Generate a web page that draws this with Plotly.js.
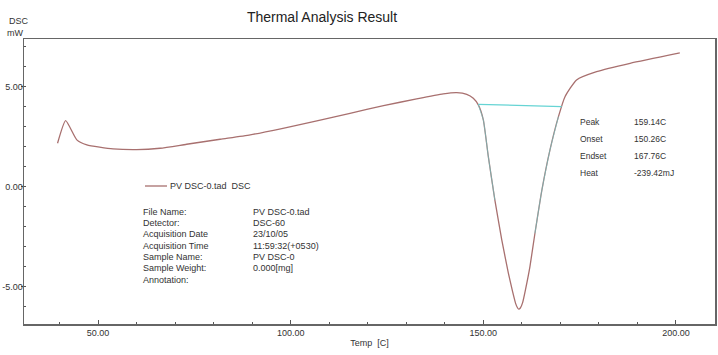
<!DOCTYPE html>
<html>
<head>
<meta charset="utf-8">
<script src="https://cdn.plot.ly/plotly-3.0.1.min.js"></script>
<style>html,body{margin:0;padding:0;background:#fff;}#chart{width:718px;height:355px;}</style>
</head>
<body>
<div id="chart"></div>
<script>
// ---- data ----
const temp = [39.5, 41.6, 44.5, 47.1, 53.9, 60.0, 66.1, 73.0, 81.7, 89.5, 98.0, 106.8, 115.4, 124.1, 132.7, 139.6, 143.1, 145.7, 147.4, 148.7, 150.0, 151.3, 153.0, 154.8, 156.5, 157.6, 158.4, 158.9, 159.2, 159.6, 160.2, 161.0, 162.1, 163.4, 165.2, 167.3, 169.5, 171.2, 174.2, 179.4, 188.1, 201.0];
const dsc  = [2.17, 3.30, 2.34, 2.09, 1.89, 1.85, 1.92, 2.12, 2.37, 2.59, 2.92, 3.29, 3.67, 4.05, 4.39, 4.64, 4.70, 4.62, 4.42, 4.09, 3.34, 1.50, -0.67, -2.67, -4.32, -5.25, -5.85, -6.07, -6.13, -6.07, -5.80, -5.10, -4.00, -2.33, -0.17, 1.84, 3.50, 4.50, 5.34, 5.75, 6.17, 6.69];
const baselineT   = [148.7, 170.35];
const baselineDSC = [4.12, 4.00];
const cyanLeftRange  = [148.7, 153.0];
const cyanRightRange = [163.4, 170.35];

const xTickVals = [50, 100, 150, 200];
const xTickText = ['50.00', '100.00', '150.00', '200.00'];
const yTickVals = [-5, 0, 5];
const yTickText = ['-5.00', '0.00', '5.00'];

const legendName = 'PV DSC-0.tad  DSC';
const infoLabels = ['File Name:', 'Detector:', 'Acquisition Date', 'Acquisition Time', 'Sample Name:', 'Sample Weight:', 'Annotation:'];
const infoValues = ['PV DSC-0.tad', 'DSC-60', '23/10/05', '11:59:32(+0530)', 'PV DSC-0', '0.000[mg]', ''];
const resultLabels = ['Peak', 'Onset', 'Endset', 'Heat'];
const resultValues = ['159.14C', '150.26C', '167.76C', '-239.42mJ'];

// ---- layout helpers ----
const W = 718, H = 355;
const L = 24, R = 715, T = 39, B = 324;
const px = x => (x - L) / (R - L);
const py = y => (B - y) / (B - T);
const FONT = '"Liberation Sans", Arial, sans-serif';
const curveColor = '#a8706f';
const cyan = '#66d4d4';

function subset(range) {
  const xs = [], ys = [];
  temp.forEach((t, i) => { if (t >= range[0] - 1e-9 && t <= range[1] + 1e-9) { xs.push(t); ys.push(dsc[i]); } });
  return {xs, ys};
}
const cl = subset(cyanLeftRange), cr = subset(cyanRightRange);

const lineShape = {shape: 'spline', smoothing: 0.5};
const traces = [
  {x: temp, y: dsc, type: 'scatter', mode: 'lines', line: Object.assign({color: curveColor, width: 1.3}, lineShape), hoverinfo: 'skip'},
  {x: cl.xs, y: cl.ys, type: 'scatter', mode: 'lines', line: Object.assign({color: cyan, width: 1}, lineShape), opacity: 0.6, hoverinfo: 'skip'},
  {x: cr.xs, y: cr.ys, type: 'scatter', mode: 'lines', line: Object.assign({color: cyan, width: 1}, lineShape), opacity: 0.6, hoverinfo: 'skip'},
  {x: baselineT, y: baselineDSC, type: 'scatter', mode: 'lines', line: {color: cyan, width: 1.3}, hoverinfo: 'skip'}
];

const ann = [];
function txt(text, x, y, size, anchor) {
  ann.push({text: text, xref: 'paper', yref: 'paper', x: px(x), y: py(y), xanchor: anchor || 'left', yanchor: 'middle',
            showarrow: false, font: {family: FONT, size: size || 9, color: '#333'}, borderpad: 0});
}
// axis unit labels
txt('DSC', 19, 21, 9, 'center');
txt('mW', 15, 33, 9, 'center');
// legend
txt(legendName, 169, 186, 9);
// info block
const rowY = [212, 223, 234, 245.5, 257, 268, 279.5];
infoLabels.forEach((s, i) => txt(s, 142, rowY[i], 9));
infoValues.forEach((s, i) => { if (s) txt(s, 252, rowY[i], 9); });
// results
const resY = [122, 139, 156, 173];
resultLabels.forEach((s, i) => txt(s, 579, resY[i], 8.5));
resultValues.forEach((s, i) => txt(s, 633, resY[i], 8.5));

const layout = {
  width: W, height: H,
  margin: {l: L, r: W - R, t: T, b: H - B, pad: 0},
  paper_bgcolor: '#fff', plot_bgcolor: '#fff',
  showlegend: false,
  title: {text: 'Thermal Analysis Result', x: 322 / W, xref: 'container', xanchor: 'center',
          y: 1 - 17 / H, yref: 'container', yanchor: 'middle', font: {family: FONT, size: 14, color: '#222'}},
  font: {family: FONT, size: 9, color: '#333'},
  xaxis: {
    range: [30.79, 210.13], showgrid: false, zeroline: false,
    showline: true, linecolor: '#666', linewidth: 1.5, mirror: true,
    tickmode: 'array', tickvals: xTickVals, ticktext: xTickText,
    ticks: 'inside', ticklen: 4, tickcolor: '#555', tickwidth: 1,
    minor: {tickmode: 'linear', tick0: 0, dtick: 10, ticks: 'inside', ticklen: 2, tickcolor: '#555'},
    tickfont: {family: FONT, size: 9, color: '#333'},
    title: {text: 'Temp  [C]', font: {family: FONT, size: 9, color: '#333'}, standoff: 2},
    fixedrange: true
  },
  yaxis: {
    range: [-6.87, 7.385], showgrid: false, zeroline: false,
    showline: true, linecolor: '#666', linewidth: 1.5, mirror: true,
    tickmode: 'array', tickvals: yTickVals, ticktext: yTickText,
    ticks: 'outside', ticklen: 2, tickcolor: '#555', tickwidth: 1,
    ticklabelstandoff: -4,
    minor: {tickmode: 'linear', tick0: 0, dtick: 1, ticks: 'inside', ticklen: 2, tickcolor: '#555'},
    tickfont: {family: FONT, size: 9, color: '#333'},
    fixedrange: true
  },
  shapes: [
    {type: 'line', xref: 'paper', yref: 'paper', x0: px(145), x1: px(167), y0: py(186), y1: py(186), line: {color: curveColor, width: 1.3}}
  ],
  annotations: ann
};

Plotly.newPlot('chart', traces, layout, {staticPlot: true, displayModeBar: false});
</script>
</body>
</html>
